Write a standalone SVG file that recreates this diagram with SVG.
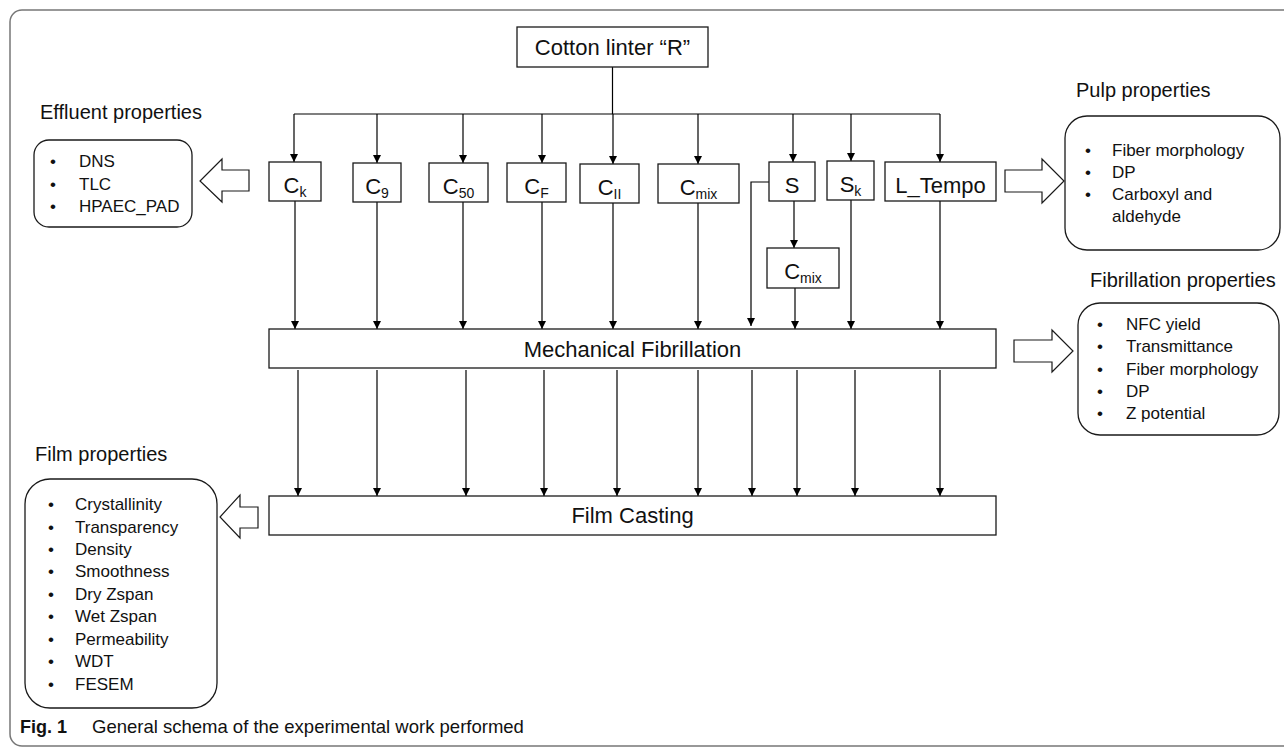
<svg xmlns="http://www.w3.org/2000/svg" width="1284" height="749" viewBox="0 0 1284 749">
<defs>
<marker id="ah" markerWidth="9" markerHeight="9" refX="8" refY="4" orient="auto" markerUnits="userSpaceOnUse">
<path d="M0,0 L8,4 L0,8 z" fill="#000"/>
</marker>
<style>
text{font-family:"Liberation Sans",Arial,sans-serif;fill:#111}
.box{fill:#fff;stroke:#1a1a1a;stroke-width:1.3}
.rbox{fill:#fff;stroke:#1a1a1a;stroke-width:1.3}
.big{font-size:22px}
.title{font-size:20px}
.item{font-size:17px}
.sub{font-size:14px}
.conn{fill:none;stroke:#000;stroke-width:1.2}
.arr{marker-end:url(#ah)}
.hollow{fill:#fff;stroke:#1a1a1a;stroke-width:1.2}
</style>
</defs>
<rect width="1284" height="749" fill="#fff"/>
<rect id="frame" x="10" y="10" width="1300" height="736" rx="12" fill="none" stroke="#777" stroke-width="1.5"/>

<g id="connectors">
<path class="conn" d="M612.5,67 V114 M294,114 H940"/>
<path class="conn arr" d="M294,114 V162"/>
<path class="conn arr" d="M377,114 V163"/>
<path class="conn arr" d="M463,114 V163"/>
<path class="conn arr" d="M542,114 V163"/>
<path class="conn arr" d="M613,114 V164"/>
<path class="conn arr" d="M698,114 V164"/>
<path class="conn arr" d="M793,114 V162"/>
<path class="conn arr" d="M851,114 V161"/>
<path class="conn arr" d="M940,114 V162"/>
<path class="conn arr" d="M295,201 V329"/>
<path class="conn arr" d="M377,202 V329"/>
<path class="conn arr" d="M463,202 V329"/>
<path class="conn arr" d="M542,202 V329"/>
<path class="conn arr" d="M613,203 V329"/>
<path class="conn arr" d="M698,203 V329"/>
<path class="conn arr" d="M769,182 H751 V326"/>
<path class="conn arr" d="M794,201 V248"/>
<path class="conn arr" d="M795,288 V329"/>
<path class="conn arr" d="M851,200 V329"/>
<path class="conn arr" d="M940,201 V329"/>
<path class="conn arr" d="M298,370 V496"/>
<path class="conn arr" d="M377,370 V496"/>
<path class="conn arr" d="M466,370 V496"/>
<path class="conn arr" d="M544,370 V496"/>
<path class="conn arr" d="M617,370 V496"/>
<path class="conn arr" d="M698,370 V496"/>
<path class="conn arr" d="M752,370 V496"/>
<path class="conn arr" d="M797,370 V496"/>
<path class="conn arr" d="M855,370 V496"/>
<path class="conn arr" d="M940,370 V496"/>
<polygon class="hollow" points="249,170 222,170 222,159 200,181 222,202 222,191 249,191"/>
<polygon class="hollow" points="1005,170 1042,170 1042,159 1064,181 1042,203 1042,192 1005,192"/>
<polygon class="hollow" points="1014,340 1052,340 1052,330 1073,351 1052,372 1052,362 1014,362"/>
<polygon class="hollow" points="258,507 240,507 240,495 220,517 240,538 240,528 258,528"/>
</g>

<g id="cotton">
<rect class="box" x="517" y="27" width="191" height="40"/>
<text class="big" x="612.5" y="55" text-anchor="middle">Cotton linter “R”</text>
</g>

<g id="ck">
<rect class="box" x="269" y="162" width="52" height="39"/>
<text class="big" x="295" y="193" text-anchor="middle">C<tspan class="sub" dy="4">k</tspan></text>
</g>
<g id="c9">
<rect class="box" x="353" y="163" width="48" height="39"/>
<text class="big" x="377" y="194" text-anchor="middle">C<tspan class="sub" dy="4">9</tspan></text>
</g>
<g id="c50">
<rect class="box" x="429" y="163" width="59" height="39"/>
<text class="big" x="458.5" y="194" text-anchor="middle">C<tspan class="sub" dy="4">50</tspan></text>
</g>
<g id="cf">
<rect class="box" x="507" y="163" width="59" height="39"/>
<text class="big" x="536.5" y="194" text-anchor="middle">C<tspan class="sub" dy="4">F</tspan></text>
</g>
<g id="cii">
<rect class="box" x="580" y="164" width="59" height="39"/>
<text class="big" x="609.5" y="195" text-anchor="middle">C<tspan class="sub" dy="4">II</tspan></text>
</g>
<g id="cmix">
<rect class="box" x="658" y="164" width="81" height="39"/>
<text class="big" x="698.5" y="195" text-anchor="middle">C<tspan class="sub" dy="4">mix</tspan></text>
</g>
<g id="s">
<rect class="box" x="769" y="162" width="46" height="39"/>
<text class="big" x="792" y="193" text-anchor="middle">S</text>
</g>
<g id="sk">
<rect class="box" x="827" y="161" width="47" height="39"/>
<text class="big" x="850.5" y="192" text-anchor="middle">S<tspan class="sub" dy="4">k</tspan></text>
</g>
<g id="ltempo">
<rect class="box" x="885" y="162" width="111" height="39"/>
<text class="big" x="940.5" y="193" text-anchor="middle" font-size="21">L_Tempo</text>
</g>
<g id="cmix2">
<rect class="box" x="767" y="248" width="72" height="40"/>
<text class="big" x="803" y="279" text-anchor="middle">C<tspan class="sub" dy="4">mix</tspan></text>
</g>

<g id="mech">
<rect class="box" x="269" y="329" width="727" height="39"/>
<text class="big" x="632.5" y="357" text-anchor="middle">Mechanical Fibrillation</text>
</g>
<g id="film">
<rect class="box" x="269" y="496" width="727" height="39"/>
<text class="big" x="632.5" y="523" text-anchor="middle" font-size="21">Film Casting</text>
</g>

<g id="effluent">
<text class="title" x="40" y="119">Effluent properties</text>
<rect class="rbox" x="34" y="140" width="158" height="87" rx="15"/>
<text class="item" x="50" y="167">•</text><text class="item" x="79" y="167">DNS</text>
<text class="item" x="50" y="190">•</text><text class="item" x="79" y="190">TLC</text>
<text class="item" x="50" y="212">•</text><text class="item" x="79" y="212">HPAEC_PAD</text>
</g>

<g id="pulp">
<text class="title" x="1076" y="97">Pulp properties</text>
<rect class="rbox" x="1065" y="116" width="215" height="134" rx="22"/>
<text class="item" x="1085" y="156">•</text><text class="item" x="1112" y="156">Fiber morphology</text>
<text class="item" x="1085" y="178">•</text><text class="item" x="1112" y="178">DP</text>
<text class="item" x="1085" y="200">•</text><text class="item" x="1112" y="200">Carboxyl and</text>
<text class="item" x="1112" y="222">aldehyde</text>
</g>

<g id="fibrillation">
<text class="title" x="1090" y="287">Fibrillation properties</text>
<rect class="rbox" x="1078" y="303" width="201" height="132" rx="22"/>
<text class="item" x="1097" y="330">•</text><text class="item" x="1126" y="330">NFC yield</text>
<text class="item" x="1097" y="352">•</text><text class="item" x="1126" y="352">Transmittance</text>
<text class="item" x="1097" y="375">•</text><text class="item" x="1126" y="375">Fiber morphology</text>
<text class="item" x="1097" y="397">•</text><text class="item" x="1126" y="397">DP</text>
<text class="item" x="1097" y="419">•</text><text class="item" x="1126" y="419">Z potential</text>
</g>

<g id="filmprops">
<text class="title" x="35" y="461">Film properties</text>
<rect class="rbox" x="25" y="479" width="192" height="229" rx="25"/>
<text class="item" x="48" y="510">•</text><text class="item" x="75" y="510">Crystallinity</text>
<text class="item" x="48" y="533">•</text><text class="item" x="75" y="533">Transparency</text>
<text class="item" x="48" y="555">•</text><text class="item" x="75" y="555">Density</text>
<text class="item" x="48" y="577">•</text><text class="item" x="75" y="577">Smoothness</text>
<text class="item" x="48" y="600">•</text><text class="item" x="75" y="600">Dry Zspan</text>
<text class="item" x="48" y="622">•</text><text class="item" x="75" y="622">Wet Zspan</text>
<text class="item" x="48" y="645">•</text><text class="item" x="75" y="645">Permeability</text>
<text class="item" x="48" y="667">•</text><text class="item" x="75" y="667">WDT</text>
<text class="item" x="48" y="690">•</text><text class="item" x="75" y="690">FESEM</text>
</g>

<g id="caption">
<text x="20" y="733" font-size="18" font-weight="bold" fill="#231f20">Fig. 1</text>
<text x="92" y="733" font-size="18.5" fill="#333">General schema of the experimental work performed</text>
</g>
</svg>
